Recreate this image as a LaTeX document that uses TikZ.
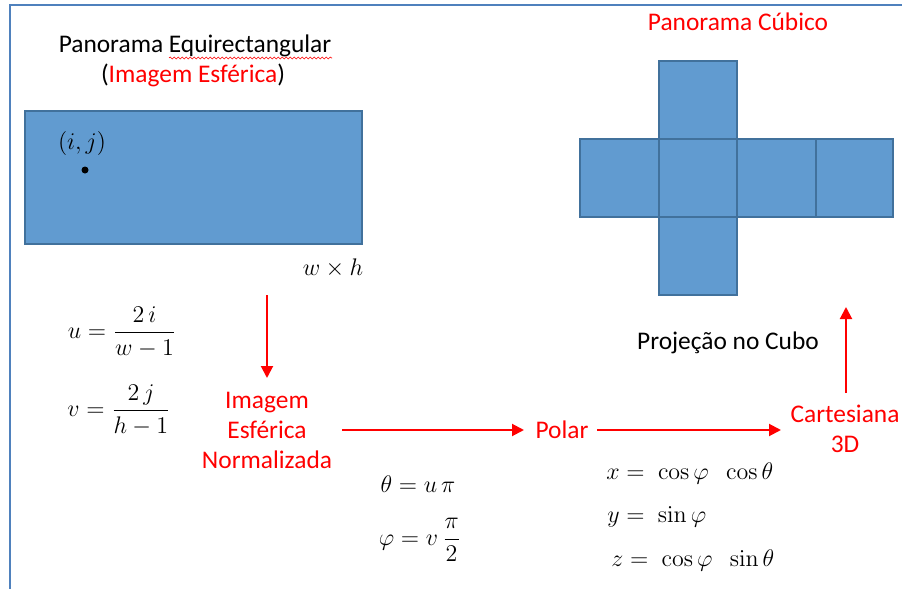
\documentclass[tikz,border=0pt]{standalone}
\usepackage{amsmath}
\usepackage[no-math]{fontspec}
\setmainfont{Carlito}
\usetikzlibrary{arrows.meta,decorations.pathmorphing}
\definecolor{facefill}{RGB}{97,155,208}
\definecolor{faceedge}{RGB}{65,113,156}
\definecolor{framecol}{RGB}{79,129,189}
\definecolor{pred}{RGB}{255,0,0}
\tikzset{
  face/.style={draw=faceedge,fill=facefill,line width=1pt},
  lbl/.style={font=\fontsize{12.7pt}{15pt}\selectfont,inner sep=1pt},
  rlbl/.style={lbl,text=pred,align=center},
  mth/.style={font=\fontsize{12.4pt}{14pt}\selectfont,inner sep=1pt},
  flow/.style={draw=pred,line width=1pt,-{Triangle[width=6pt,length=6pt]}}
}
\begin{document}
\begin{tikzpicture}[x=0.5pt,y=-0.5pt]
\useasboundingbox (0,0) rectangle (902,589);
% frame
\draw[framecol,line width=1pt] (9,5) -- (902,5);
\draw[framecol,line width=1pt] (9.5,5) -- (9.5,589);
% left panorama
\node[lbl] (t1) at (195,46) {Panorama Equirectangular};
\draw[pred,line width=0.3pt,decorate,decoration={snake,amplitude=0.5pt,segment length=2pt}] (169,58) -- (332,58);
\node[lbl] (t2) at (193,75) {(\textcolor{pred}{Imagem Esférica})};
\draw[face] (25,111) rectangle (362,244);
\node[mth] (ij) at (82,143) {$(i,j)$};
\fill (85,170) circle (3.5);
\node[mth] (wh) at (333,268) {$w\times h$};
% formulas u,v
\node[mth] (fu) at (122,332) {$u=\dfrac{2\,i}{w-1}$};
\node[mth] (fv) at (119,410) {$v=\dfrac{2\,j}{h-1}$};
% flow nodes
\coordinate (d0) at (267,295);
\coordinate (d1) at (267,378);
\node[rlbl] (norm) at (267,430) {Imagem\\Esférica\\Normalizada};
\node[rlbl] (polar) at (562,430) {Polar};
\node[rlbl] (cart) at (845,429) {Cartesiana\\3D};
\coordinate (h0) at (342,430);
\coordinate (h1) at (524,430);
\coordinate (h2) at (597,430);
\coordinate (h3) at (781,430);
\coordinate (u0) at (846,393);
\coordinate (u1) at (846,307);
\draw[flow] (d0) -- (d1);
\draw[flow] (h0) -- (h1);
\draw[flow] (h2) -- (h3);
\draw[flow] (u0) -- (u1);
\node[lbl] (proj) at (728,343) {Projeção no Cubo};
% polar formulas
\node[mth] (fth) at (418,484) {$\theta=u\,\pi$};
\node[mth] (fph) at (420,540) {$\varphi=v\,\dfrac{\pi}{2}$};
% cartesian formulas
\node[mth,anchor=west] (fx) at (604,473) {$x=\;\cos\varphi\;\;\cos\theta$};
\node[mth,anchor=west] (fy) at (605,517) {$y=\;\sin\varphi$};
\node[mth,anchor=west] (fz) at (609,560) {$z=\;\cos\varphi\;\;\sin\theta$};
% cube
\node[lbl,text=pred] (t3) at (738,22) {Panorama Cúbico};
\draw[face] (659,61) rectangle (737,139);
\draw[face] (580,139) rectangle (659,217);
\draw[face] (659,139) rectangle (737,217);
\draw[face] (737,139) rectangle (816,217);
\draw[face] (816,139) rectangle (893,217);
\draw[face] (659,217) rectangle (737,295);
\end{tikzpicture}
\end{document}
